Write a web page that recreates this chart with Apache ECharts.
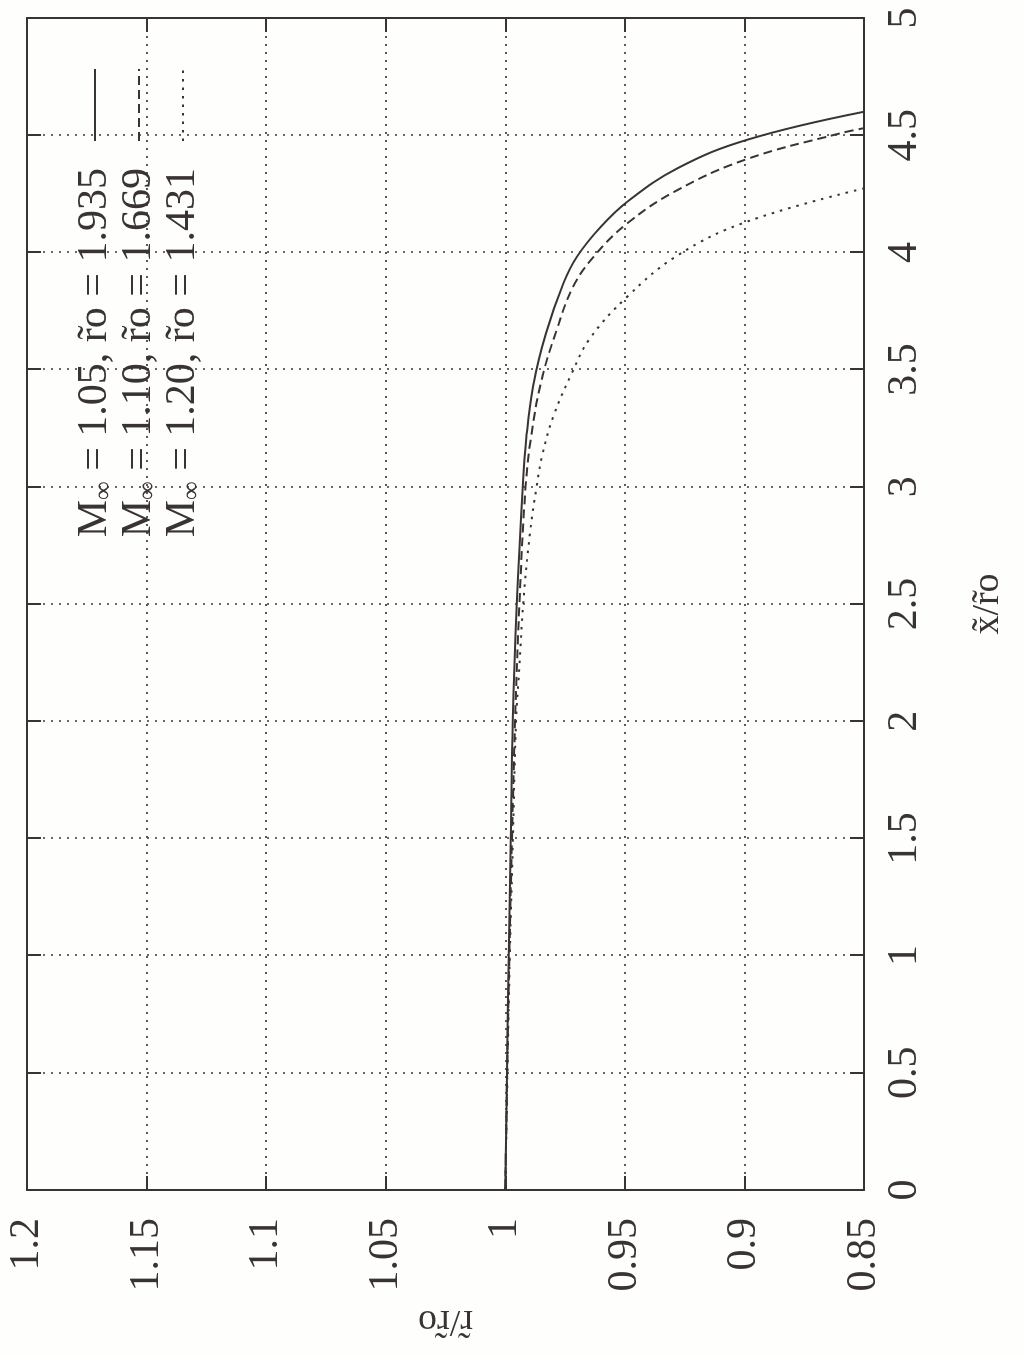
<!DOCTYPE html>
<html><head><meta charset="utf-8">
<script src="https://cdn.jsdelivr.net/npm/echarts@6/dist/echarts.min.js"></script>
<style>
html,body{margin:0;padding:0;width:1024px;height:1356px;overflow:hidden;background:#fefefc;}
#chart{position:absolute;left:0;top:0;width:1356px;height:1024px;transform-origin:0 0;transform:translateY(1356px) rotate(-90deg);}
</style></head><body><div id="chart"></div>
<script>
// ---- data (x = x/ro, r = r/ro) ----
const seriesNames = ['M\u221e = 1.05, r\u0303o = 1.935', 'M\u221e = 1.10, r\u0303o = 1.669', 'M\u221e = 1.20, r\u0303o = 1.431'];

const xSolid = [0, 0.5, 1.0, 1.5, 2.0, 2.5, 3.0, 3.207, 3.427, 3.655, 3.868, 3.982, 4.110, 4.216, 4.359, 4.480, 4.600];
const rSolid = [1.0, 0.9993, 0.9986, 0.9977, 0.9969, 0.9952, 0.9927, 0.9912, 0.9884, 0.9830, 0.9757, 0.9700, 0.9600, 0.9490, 0.9280, 0.8990, 0.8500];

const xDashed = [0, 0.5, 1.0, 1.5, 2.0, 2.5, 3.0, 3.207, 3.456, 3.669, 3.854, 3.982, 4.124, 4.266, 4.398, 4.508, 4.530];
const rDashed = [1.0, 0.9992, 0.9983, 0.9972, 0.9959, 0.9941, 0.9915, 0.9893, 0.9848, 0.9785, 0.9716, 0.9630, 0.9490, 0.9280, 0.8990, 0.8600, 0.8500];

const xDotted = [0, 0.5, 1.0, 1.5, 2.0, 2.233, 2.5, 2.801, 3.0, 3.136, 3.300, 3.484, 3.633, 3.811, 3.987, 4.131, 4.273];
const rDotted = [1.0, 0.9991, 0.9981, 0.9968, 0.9955, 0.9941, 0.9925, 0.9897, 0.9869, 0.9845, 0.9799, 0.9722, 0.9646, 0.9490, 0.9280, 0.8990, 0.8500];

// axis ranges: [min, max, interval]
const xRange = [0, 5, 0.5];
const rRange = [0.85, 1.2, 0.05];
const xName = 'x\u0303/r\u0303o';
const rName = 'r\u0303/r\u0303o';

// ---- styles ----
const INK = '#3a3335';
const GRIDC = '#5e5759';
const FONT = "'Liberation Serif','Times New Roman',serif";
const CLEAR = 'rgba(0,0,0,0)';

function pairs(xs, ys) { return xs.map((x, i) => [x, ys[i]]); }

const chart = echarts.init(document.getElementById('chart'), null, {renderer: 'canvas'});

const gridLine = {show: true, lineStyle: {color: GRIDC, width: 1.8, type: [2, 6]}};
const frameLine = {show: true, onZero: false, lineStyle: {color: INK, width: 2}};
const tickIn = {show: true, inside: true, length: 14, lineStyle: {color: INK, width: 2}};

function lineSeries(i, xs, ys, type) {
  return {name: seriesNames[i], type: 'line', data: pairs(xs, ys), symbol: 'none', smooth: 0.4,
    lineStyle: {color: INK, width: 2, type: type}, itemStyle: {color: INK}};
}

chart.setOption({
  backgroundColor: '#fefefc',
  animation: false,
  grid: {left: 166, right: 18, top: 27, bottom: 160, containLabel: false, outerBoundsMode: 'none'},
  legend: {
    orient: 'vertical', right: 63, top: 68, align: 'right',
    itemWidth: 72, itemHeight: 16, itemGap: 0,
    data: seriesNames,
    itemStyle: {color: CLEAR, borderColor: CLEAR, borderWidth: 0, opacity: 0},
    formatter: n => n.replace('\u221e', '{s|\u221e}'),
    textStyle: {
      fontFamily: FONT, fontSize: 42, color: INK, lineHeight: 44, padding: [0, 22, 0, 0],
      rich: {s: {fontFamily: FONT, fontSize: 26, color: INK, lineHeight: 44, verticalAlign: 'bottom'}}
    }
  },
  xAxis: [{
    type: 'value', position: 'bottom', min: xRange[0], max: xRange[1], interval: xRange[2],
    axisLine: frameLine, axisTick: tickIn, splitLine: gridLine,
    axisLabel: {fontFamily: FONT, fontSize: 42, color: INK, margin: 20},
    name: xName, nameLocation: 'middle', nameGap: 105,
    nameTextStyle: {fontFamily: FONT, fontSize: 38, color: INK}
  }, {
    type: 'value', position: 'top', min: xRange[0], max: xRange[1], interval: xRange[2],
    axisLine: frameLine, axisTick: tickIn, splitLine: {show: false}, axisLabel: {show: false}
  }],
  yAxis: [{
    type: 'value', position: 'left', min: rRange[0], max: rRange[1], interval: rRange[2],
    axisLine: frameLine, axisTick: tickIn, splitLine: gridLine,
    axisLabel: {fontFamily: FONT, fontSize: 42, color: INK, margin: 28},
    name: rName, nameLocation: 'middle', nameGap: 112, nameRotate: 90,
    nameTextStyle: {fontFamily: FONT, fontSize: 38, color: INK}
  }, {
    type: 'value', position: 'right', min: rRange[0], max: rRange[1], interval: rRange[2],
    axisLine: frameLine, axisTick: tickIn, splitLine: {show: false}, axisLabel: {show: false}
  }],
  series: [
    lineSeries(0, xSolid, rSolid, 'solid'),
    lineSeries(1, xDashed, rDashed, [9, 5]),
    lineSeries(2, xDotted, rDotted, [2.5, 6])
  ]
});
</script></body></html>
